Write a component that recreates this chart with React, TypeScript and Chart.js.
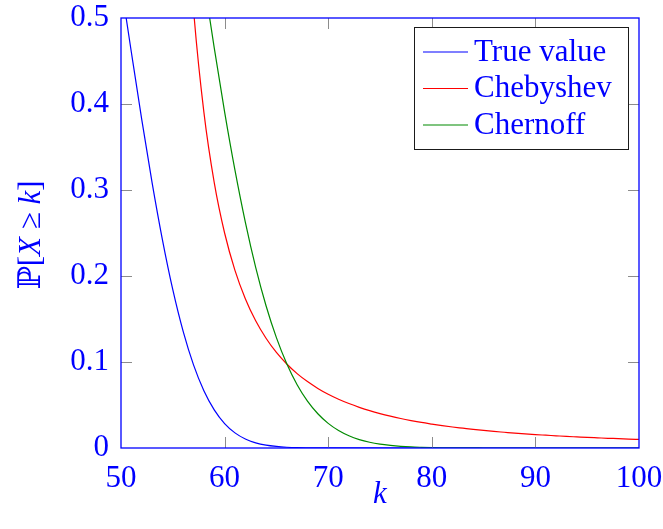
import React, { useEffect, useRef } from 'react';
import { Chart, registerables } from 'chart.js';

Chart.register(...registerables);

// k values and series values
const kTrue = [50, 51, 52, 53, 54, 55, 56, 57, 58, 59, 60, 61, 62, 63, 64, 65, 66, 67, 68, 69, 70, 80, 90, 100];
const trueValue = [0.5398, 0.4602, 0.3822, 0.3086, 0.2421, 0.1841, 0.1356, 0.0967, 0.0666, 0.0443, 0.0284, 0.0176, 0.0105, 0.006, 0.0033, 0.0018, 0.0009, 0.0004, 0.0002, 0.0001, 0.00004, 0, 0, 0];

const kCheb = [56, 57, 58, 59, 60, 61, 62, 63, 64, 65, 66, 67, 68, 69, 70, 71, 72, 73, 74, 75, 76, 77, 78, 79, 80, 81, 82, 83, 84, 85, 86, 87, 88, 89, 90, 91, 92, 93, 94, 95, 96, 97, 98, 99, 100];
const chebyshev = [0.6944, 0.5102, 0.3906, 0.3086, 0.25, 0.2066, 0.1736, 0.1479, 0.1276, 0.1111, 0.0977, 0.0865, 0.0772, 0.0693, 0.0625, 0.0567, 0.0517, 0.0473, 0.0434, 0.04, 0.037, 0.0343, 0.0319, 0.0297, 0.0278, 0.026, 0.0244, 0.023, 0.0216, 0.0204, 0.0193, 0.0183, 0.0173, 0.0164, 0.0156, 0.0149, 0.0142, 0.0135, 0.0129, 0.0123, 0.0118, 0.0113, 0.0109, 0.0104, 0.01];

const kChern = [58, 59, 60, 61, 62, 63, 64, 65, 66, 67, 68, 69, 70, 71, 72, 73, 74, 75, 76, 77, 78, 79, 80, 81, 82, 83, 84, 85, 90, 100];
const chernoff = [0.5443, 0.4652, 0.3909, 0.3231, 0.2627, 0.2101, 0.1654, 0.1283, 0.0979, 0.0736, 0.0545, 0.0398, 0.0286, 0.0203, 0.0142, 0.0098, 0.0067, 0.0045, 0.003, 0.0019, 0.0012, 0.0008, 0.0005, 0.0003, 0.0002, 0.0001, 0.0001, 0, 0, 0];

const xTicks = [50, 60, 70, 80, 90, 100];
const yTicks = [0, 0.1, 0.2, 0.3, 0.4, 0.5];
const yTickLabels = ['0', '0.1', '0.2', '0.3', '0.4', '0.5'];

const seriesNames = ['True value', 'Chebyshev', 'Chernoff'];
const seriesColors = ['#0000ff', '#ff0000', '#008a00'];

const TEXT_BLUE = '#0000ff';
const SERIF = '"Liberation Serif", "Times New Roman", serif';
const FS = 31;

const framePlugin = {
  id: 'pgfFrame',
  afterDatasetsDraw(chart: any) {
    const { ctx, chartArea } = chart;
    const { left, right, top, bottom } = chartArea;
    const xs = chart.scales.x;
    const ys = chart.scales.y;
    ctx.save();
    // inward tick marks
    ctx.strokeStyle = '#8c8c8c';
    ctx.lineWidth = 1;
    const tl = 11;
    xTicks.slice(1, -1).forEach((v) => {
      const px = Math.round(xs.getPixelForValue(v)) + 0.5;
      ctx.beginPath();
      ctx.moveTo(px, bottom);
      ctx.lineTo(px, bottom - tl);
      ctx.moveTo(px, top);
      ctx.lineTo(px, top + tl);
      ctx.stroke();
    });
    yTicks.slice(1, -1).forEach((v) => {
      const py = Math.round(ys.getPixelForValue(v)) + 0.5;
      ctx.beginPath();
      ctx.moveTo(left, py);
      ctx.lineTo(left + tl, py);
      ctx.moveTo(right, py);
      ctx.lineTo(right - tl, py);
      ctx.stroke();
    });
    // frame
    ctx.strokeStyle = '#0000ff';
    ctx.lineWidth = 1.3;
    ctx.strokeRect(left, top, right - left, bottom - top);

    // legend
    const lx = 414, ly = 27, lw = 214, lh = 122;
    ctx.fillStyle = '#ffffff';
    ctx.fillRect(lx, ly, lw, lh);
    ctx.strokeStyle = '#1a1a1a';
    ctx.lineWidth = 1;
    ctx.strokeRect(lx + 0.5, ly + 0.5, lw, lh);
    const rowY = [52, 88.5, 125];
    seriesNames.forEach((name, i) => {
      const y = rowY[i];
      ctx.strokeStyle = seriesColors[i];
      ctx.lineWidth = 1.2;
      ctx.beginPath();
      ctx.moveTo(423, y);
      ctx.lineTo(468, y);
      ctx.stroke();
      ctx.fillStyle = TEXT_BLUE;
      ctx.font = `${FS}px ${SERIF}`;
      ctx.textAlign = 'left';
      ctx.textBaseline = 'alphabetic';
      ctx.fillText(name, 474, y + 8.5);
    });

    // x axis title
    ctx.fillStyle = TEXT_BLUE;
    ctx.font = `italic ${FS}px ${SERIF}`;
    ctx.textAlign = 'center';
    ctx.textBaseline = 'alphabetic';
    ctx.fillText('k', (left + right) / 2, 503);

    // y axis title: ℙ[X ≥ k]
    const parts = [
      { t: 'ℙ', f: `${FS}px ${SERIF}, "DejaVu Serif"` },
      { t: '[', f: `${FS}px ${SERIF}` },
      { t: 'X', f: `italic ${FS}px ${SERIF}` },
      { t: ' ≥ ', f: `${FS}px ${SERIF}, "DejaVu Serif"` },
      { t: 'k', f: `italic ${FS}px ${SERIF}` },
      { t: ']', f: `${FS}px ${SERIF}` },
    ];
    let total = 0;
    const widths = parts.map((p) => {
      ctx.font = p.f;
      const w = ctx.measureText(p.t).width;
      total += w;
      return w;
    });
    ctx.translate(40, 235);
    ctx.rotate(-Math.PI / 2);
    ctx.textAlign = 'left';
    let cx = -total / 2;
    parts.forEach((p, i) => {
      ctx.font = p.f;
      ctx.fillText(p.t, cx, 0);
      cx += widths[i];
    });
    ctx.restore();
  },
};

const zeroPad = (s: any) => {
  s.paddingTop = 0;
  s.paddingBottom = 0;
  s.paddingLeft = 0;
  s.paddingRight = 0;
};

export default function App() {
  const ref = useRef<HTMLCanvasElement | null>(null);
  useEffect(() => {
    if (!ref.current) return;
    const mk = (xs: number[], ys: number[]) => xs.map((x, i) => ({ x, y: ys[i] }));
    const chart = new Chart(ref.current, {
      type: 'line',
      data: {
        datasets: [
          { label: seriesNames[0], data: mk(kTrue, trueValue), borderColor: seriesColors[0], order: 3 },
          { label: seriesNames[1], data: mk(kCheb, chebyshev), borderColor: seriesColors[1], order: 2 },
          { label: seriesNames[2], data: mk(kChern, chernoff), borderColor: seriesColors[2], order: 1 },
        ].map((d) => ({
          ...d,
          borderWidth: 1.2,
          pointRadius: 0,
          fill: false,
          cubicInterpolationMode: 'monotone' as const,
          clip: 0,
        })),
      },
      options: {
        animation: false,
        responsive: false,
        maintainAspectRatio: false,
        layout: { padding: { left: 0, top: 18, right: 24, bottom: 0 } },
        plugins: { legend: { display: false }, tooltip: { enabled: false }, title: { display: false } },
        scales: {
          x: {
            type: 'linear',
            min: 50,
            max: 100,
            grid: { display: false, drawTicks: false },
            border: { display: false },
            afterBuildTicks: (s: any) => {
              s.ticks = xTicks.map((v) => ({ value: v }));
            },
            afterFit: (s: any) => {
              s.height = 81;
              zeroPad(s);
            },
            ticks: {
              color: TEXT_BLUE,
              font: { family: SERIF, size: FS, lineHeight: 1.0 },
              padding: 15,
              maxRotation: 0,
              autoSkip: false,
              callback: (v: any) => String(v),
            },
          },
          y: {
            type: 'linear',
            min: 0,
            max: 0.5,
            grid: { display: false, drawTicks: false },
            border: { display: false },
            afterBuildTicks: (s: any) => {
              s.ticks = yTicks.map((v) => ({ value: v }));
            },
            afterFit: (s: any) => {
              s.width = 121;
              zeroPad(s);
            },
            ticks: {
              color: TEXT_BLUE,
              font: { family: SERIF, size: FS, lineHeight: 1.0 },
              padding: 12,
              autoSkip: false,
              callback: (v: any) => {
                const i = yTicks.findIndex((t) => Math.abs(t - v) < 1e-9);
                return i >= 0 ? yTickLabels[i] : '';
              },
            },
          },
        },
      },
      plugins: [framePlugin],
    } as any);
    return () => chart.destroy();
  }, []);
  return (
    <div style={{ position: 'fixed', left: 0, top: 0, width: 663, height: 529, background: '#fff' }}>
      <canvas ref={ref} width={663} height={529} style={{ display: 'block' }} />
    </div>
  );
}
